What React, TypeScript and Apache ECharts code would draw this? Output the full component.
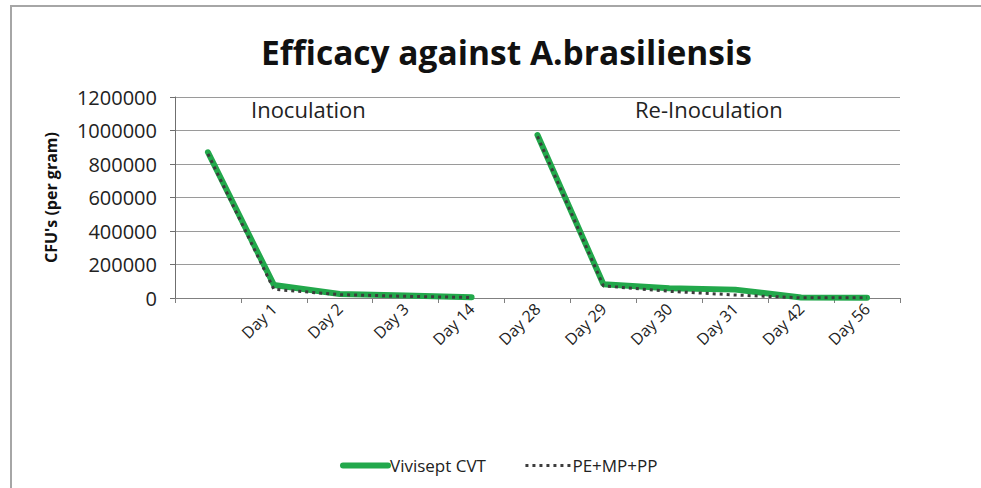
import React, { useEffect, useRef } from "react";
import * as echarts from "echarts";

const categories = ["", "Day 1", "Day 2", "Day 3", "Day 14", "Day 28", "Day 29", "Day 30", "Day 31", "Day 42", "Day 56"];
const yTicks = { min: 0, max: 1200000, interval: 200000 };

// Vivisept CVT: inoculation phase and re-inoculation phase
const viviseptInoc = [870000, 78000, 24000, 15000, 5000, null, null, null, null, null, null];
const viviseptReinoc = [null, null, null, null, null, 973000, 82000, 58000, 50000, 3000, 2000];
// PE+MP+PP
const pePhaseInoc = [860000, 52000, 20000, 10000, 3000, null, null, null, null, null, null];
const pePhaseReinoc = [null, null, null, null, null, 965000, 72000, 40000, 18000, 1000, 1000];

const FONT = "'Open Sans', 'Liberation Sans', sans-serif";
const GREEN = "#22a84b";
const DOT = "#3c3c3c";

export default function App() {
  const ref = useRef<HTMLDivElement>(null);
  useEffect(() => {
    document.body.style.margin = "0";
    const chart = echarts.init(ref.current!, null, { renderer: "svg" });
    const greenStyle = { color: GREEN, width: 6, cap: "round" as const };
    const dotStyle = { color: DOT, width: 3, type: [3, 4] as any, cap: "butt" as const };
    chart.setOption({
      animation: false,
      backgroundColor: "#ffffff",
      title: {
        text: "Efficacy against A.brasiliensis",
        left: 256,
        top: 30,
        textStyle: { fontFamily: FONT, fontSize: 33.5, fontWeight: "bold", color: "#111" },
      },
      legend: {
        left: 335,
        top: 452,
        itemWidth: 45,
        itemHeight: 16,
        itemGap: 38,
        data: [
          { name: "Vivisept CVT", lineStyle: { width: 6, color: GREEN, cap: "round" } },
          { name: "PE+MP+PP", lineStyle: { width: 3, color: DOT, type: [3, 4] } },
        ],
        itemStyle: { opacity: 0, borderWidth: 0 },
        textStyle: { fontFamily: FONT, fontSize: 17, color: "#222", padding: [0, 0, 0, -3] },
      },
      grid: { left: 175, right: 81, top: 97, height: 201 },
      xAxis: {
        type: "category",
        data: categories,
        boundaryGap: true,
        axisLine: { lineStyle: { color: "#808080", width: 1 } },
        axisTick: { show: true, length: 5, lineStyle: { color: "#808080", width: 1 } },
        axisLabel: { rotate: 45, fontFamily: FONT, fontSize: 16, color: "#222", margin: 8, interval: 0 },
      },
      yAxis: {
        type: "value",
        ...yTicks,
        name: "CFU's (per gram)",
        nameLocation: "middle",
        nameGap: 116,
        nameTextStyle: { fontFamily: FONT, fontSize: 16, fontWeight: "bold", color: "#111" },
        axisLine: { show: true, onZero: false, lineStyle: { color: "#6f6f6f", width: 1 } },
        axisTick: { show: true, length: 5, lineStyle: { color: "#6f6f6f", width: 1 } },
        axisLabel: { fontFamily: FONT, fontSize: 20, color: "#222", margin: 18, formatter: (v: number) => String(v) },
        splitLine: { lineStyle: { color: "#9a9a9a", width: 1 } },
      },
      graphic: [
        {
          type: "rect",
          shape: { x: 11, y: 6, width: 1000, height: 520 },
          style: { fill: "none", stroke: "#a6a6a6", lineWidth: 2 },
          silent: true,
        },
        {
          type: "text",
          left: 251,
          top: 98,
          style: { text: "Inoculation", font: `22px ${FONT}`, fill: "#222" },
        },
        {
          type: "text",
          left: 635,
          top: 98,
          style: { text: "Re-Inoculation", font: `22px ${FONT}`, fill: "#222" },
        },
      ],
      series: [
        { name: "Vivisept CVT", type: "line", data: viviseptInoc, symbol: "none", lineStyle: greenStyle, itemStyle: { color: GREEN }, connectNulls: false, z: 2 },
        { name: "Vivisept CVT", type: "line", data: viviseptReinoc, symbol: "none", lineStyle: greenStyle, itemStyle: { color: GREEN }, connectNulls: false, z: 2 },
        { name: "PE+MP+PP", type: "line", data: pePhaseInoc, symbol: "none", lineStyle: dotStyle, itemStyle: { color: DOT }, connectNulls: false, z: 3 },
        { name: "PE+MP+PP", type: "line", data: pePhaseReinoc, symbol: "none", lineStyle: dotStyle, itemStyle: { color: DOT }, connectNulls: false, z: 3 },
      ],
    });
    return () => chart.dispose();
  }, []);
  return <div ref={ref} style={{ width: 981, height: 488 }} />;
}
